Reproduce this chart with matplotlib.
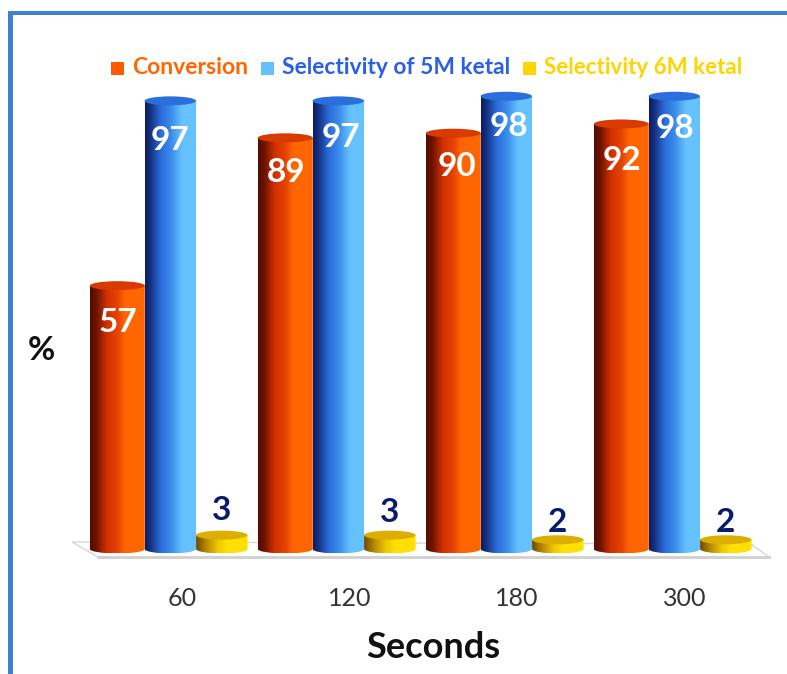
import numpy as np
import matplotlib
matplotlib.use("Agg")
import matplotlib.pyplot as plt
from matplotlib.colors import LinearSegmentedColormap
from matplotlib.patches import Ellipse, PathPatch, Polygon, Rectangle
from matplotlib.path import Path

plt.rcParams["font.family"] = ["Lato", "DejaVu Sans"]

# Data
seconds = ["60", "120", "180", "300"]
conversion = [57, 89, 90, 92]
selectivity_5m = [97, 97, 98, 98]
selectivity_6m = [3, 3, 2, 2]

# Figure geometry, in pixels
W, H = 787, 674
BASE_PX, PX_PER_UNIT = 549.0, 4.62
FIRST_GROUP_PX, GROUP_STEP_PX = 170.3, 168.0
CAP_PX = 4.5

fig = plt.figure(figsize=(W / 100, H / 100), dpi=100, facecolor="white")
ax = fig.add_axes([0, 0, 1, 1])
ax.axis("off")
xlim = ((0 - FIRST_GROUP_PX) / GROUP_STEP_PX, (W - FIRST_GROUP_PX) / GROUP_STEP_PX)
ylim = ((BASE_PX - H) / PX_PER_UNIT, BASE_PX / PX_PER_UNIT)
cap_h = CAP_PX / PX_PER_UNIT


def px(x, y):
    """Pixel position (origin top-left) to data coordinates."""
    return (x - FIRST_GROUP_PX) / GROUP_STEP_PX, (BASE_PX - y) / PX_PER_UNIT


# Frame along the top and left of the panel
fig.patches.append(Rectangle((8 / W, 0), 5 / W, 1 - 11 / H, transform=fig.transFigure,
                             fc="#3f80cf", ec="none"))
fig.patches.append(Rectangle((8 / W, 1 - 15 / H), 1 - 8 / W, 4 / H, transform=fig.transFigure,
                             fc="#3f80cf", ec="none"))

# Chart floor
floor = [px(72, 542), px(98, 557), px(769, 557), px(751, 544)]
ax.add_patch(Polygon(floor, closed=True, fc="white", ec="#d6d6d6", lw=1.0, zorder=1))
ax.plot(*zip(floor[1], floor[2]), color="#d2d2d2", lw=2.2, zorder=1.1)

orange = LinearSegmentedColormap.from_list("orange", [
    (0, "#4f0d00"), (0.12, "#701400"), (0.3, "#d03000"), (0.52, "#e84600"),
    (0.64, "#ff6600"), (1, "#ff6600")])
blue = LinearSegmentedColormap.from_list("blue", [
    (0, "#0e1c62"), (0.1, "#14307f"), (0.3, "#2a6cdc"), (0.5, "#3a8cea"),
    (0.72, "#66c2ff"), (1, "#66c2ff")])
yellow = LinearSegmentedColormap.from_list("yellow", [
    (0, "#6e4a00"), (0.2, "#b88a00"), (0.42, "#f0c800"), (0.6, "#ffe000"), (1, "#ffe000")])


def cylinder(cx, value, width, cmap, cap_color, z):
    left, right = cx - width / 2, cx + width / 2
    k = 0.5523
    verts = [(left, value), (left, 0),
             (left, -k * cap_h), (cx - k * width / 2, -cap_h), (cx, -cap_h),
             (cx + k * width / 2, -cap_h), (right, -k * cap_h), (right, 0),
             (right, value), (left, value)]
    codes = [Path.MOVETO, Path.LINETO, Path.CURVE4, Path.CURVE4, Path.CURVE4,
             Path.CURVE4, Path.CURVE4, Path.CURVE4, Path.LINETO, Path.CLOSEPOLY]
    shape = PathPatch(Path(verts, codes), transform=ax.transData, fc="none", ec="none")
    ax.add_patch(shape)
    shade = np.linspace(0, 1, 128).reshape(1, -1)
    img = ax.imshow(shade, cmap=cmap, aspect="auto", zorder=z, interpolation="bilinear",
                    extent=(left, right, -cap_h, value))
    img.set_clip_path(shape)
    ax.add_patch(Ellipse((cx, value), width, 2 * cap_h, fc=cap_color, ec="none", zorder=z + 0.01))


# Drawn back to front within each group
group_x = np.arange(len(seconds), dtype=float)
for x0, c, s5, s6 in zip(group_x, conversion, selectivity_5m, selectivity_6m):
    cylinder(x0 + 51.5 / GROUP_STEP_PX, s6, 51.5 / GROUP_STEP_PX, yellow, "#dcae00", 2)
    cylinder(x0, s5, 51.5 / GROUP_STEP_PX, blue, "#2b6fdc", 3)
    cylinder(x0 - 53 / GROUP_STEP_PX, c, 55 / GROUP_STEP_PX, orange, "#d83a00", 4)

ax.set_xlim(*xlim)
ax.set_ylim(*ylim)


def label(x_px, y_px, text, **kw):
    x, y = px(x_px, y_px)
    ax.text(x, y, text, ha="center", va="center", zorder=6, **kw)


# Value labels
conv_label_px = [(118, 323), (286, 172), (457, 167), (622, 160)]
s5_label_px = [(170, 141), (341, 138), (509, 126), (675, 129)]
s6_label_px = [(222, 510), (390, 513), (557, 522), (725, 522)]
for (xp, yp), v in zip(conv_label_px, conversion):
    label(xp, yp, str(v), color="white", fontsize=24, fontweight="bold")
for (xp, yp), v in zip(s5_label_px, selectivity_5m):
    label(xp, yp, str(v), color="white", fontsize=24, fontweight="bold")
for (xp, yp), v in zip(s6_label_px, selectivity_6m):
    label(xp, yp, str(v), color="#0b1b6b", fontsize=24, fontweight="bold")

# Category labels and axis titles
for xp, t in zip([182, 350, 517, 685], seconds):
    label(xp, 598, t, color="#333333", fontsize=18)
label(433, 647, "Seconds", color="#111111", fontsize=26, fontweight="bold")
label(41, 351, "%", color="#111111", fontsize=24, fontweight="bold")

# Legend
legend_items = [
    ("Conversion", "#ff5a00", "#ff6600", 111, 132, 16.5),
    ("Selectivity of 5M ketal", "#66bfff", "#2a5fe8", 261, 282, 16.4),
    ("Selectivity 6M ketal", "#ffd400", "#ffd400", 523, 544, 16.1),
]
for text, swatch, color, sw_px, text_px, size in legend_items:
    ax.add_patch(Rectangle(px(sw_px, 75), 13 / GROUP_STEP_PX, 13 / PX_PER_UNIT,
                           fc=swatch, ec="none", zorder=6))
    x, y = px(text_px, 68)
    ax.text(x, y, text, ha="left", va="center", color=color, fontsize=size,
            fontweight="bold", zorder=6)

fig.savefig("out.png", dpi=100)
